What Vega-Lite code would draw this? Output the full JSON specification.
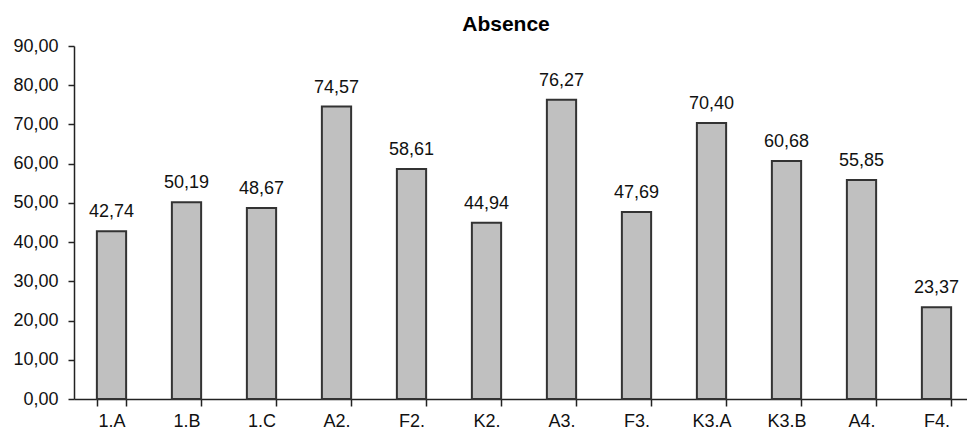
{
  "$schema": "https://vega.github.io/schema/vega-lite/v6.json",
  "autosize": {"type": "none"},
  "padding": {"left": 74, "top": 46, "right": 0, "bottom": 31},
  "width": 900,
  "height": 353,
  "background": "white",
  "title": {"text": "Absence", "font": "Liberation Sans", "fontSize": 21, "fontWeight": "bold", "color": "#000000", "anchor": "middle", "dx": -18, "offset": 2},
  "config": {
    "view": {"stroke": null},
    "locale": {"number": {"decimal": ",", "thousands": ".", "grouping": [3], "currency": ["", " €"]}},
    "axis": {"labelFont": "Liberation Sans", "labelFontSize": 18, "labelColor": "#111111", "domainColor": "#222222", "tickColor": "#222222", "domainWidth": 1.5, "tickWidth": 1.5, "grid": false, "title": null}
  },
  "data": {"values": [
    {"cls": "1.A", "value": 42.74},
    {"cls": "1.B", "value": 50.19},
    {"cls": "1.C", "value": 48.67},
    {"cls": "A2.", "value": 74.57},
    {"cls": "F2.", "value": 58.61},
    {"cls": "K2.", "value": 44.94},
    {"cls": "A3.", "value": 76.27},
    {"cls": "F3.", "value": 47.69},
    {"cls": "K3.A", "value": 70.40},
    {"cls": "K3.B", "value": 60.68},
    {"cls": "A4.", "value": 55.85},
    {"cls": "F4.", "value": 23.37}
  ]},
  "encoding": {
    "x": {"field": "cls", "type": "nominal", "sort": null,
      "scale": {"paddingInner": 0.61, "paddingOuter": 0.305},
      "axis": {"labelAngle": 0, "tickBand": "extent", "tickSize": 7, "labelPadding": 6}},
    "y": {"field": "value", "type": "quantitative",
      "scale": {"domain": [0, 90], "nice": false},
      "axis": {"values": [0,10,20,30,40,50,60,70,80,90], "format": ".2f", "tickSize": 6, "labelPadding": 10}}
  },
  "layer": [
    {"mark": {"type": "bar", "fill": "#C0C0C0", "stroke": "#333333", "strokeWidth": 2}},
    {"mark": {"type": "text", "baseline": "alphabetic", "dy": -14, "font": "Liberation Sans", "fontSize": 18, "color": "#111111"},
     "encoding": {"text": {"field": "value", "type": "quantitative", "format": ".2f"}}}
  ]
}
